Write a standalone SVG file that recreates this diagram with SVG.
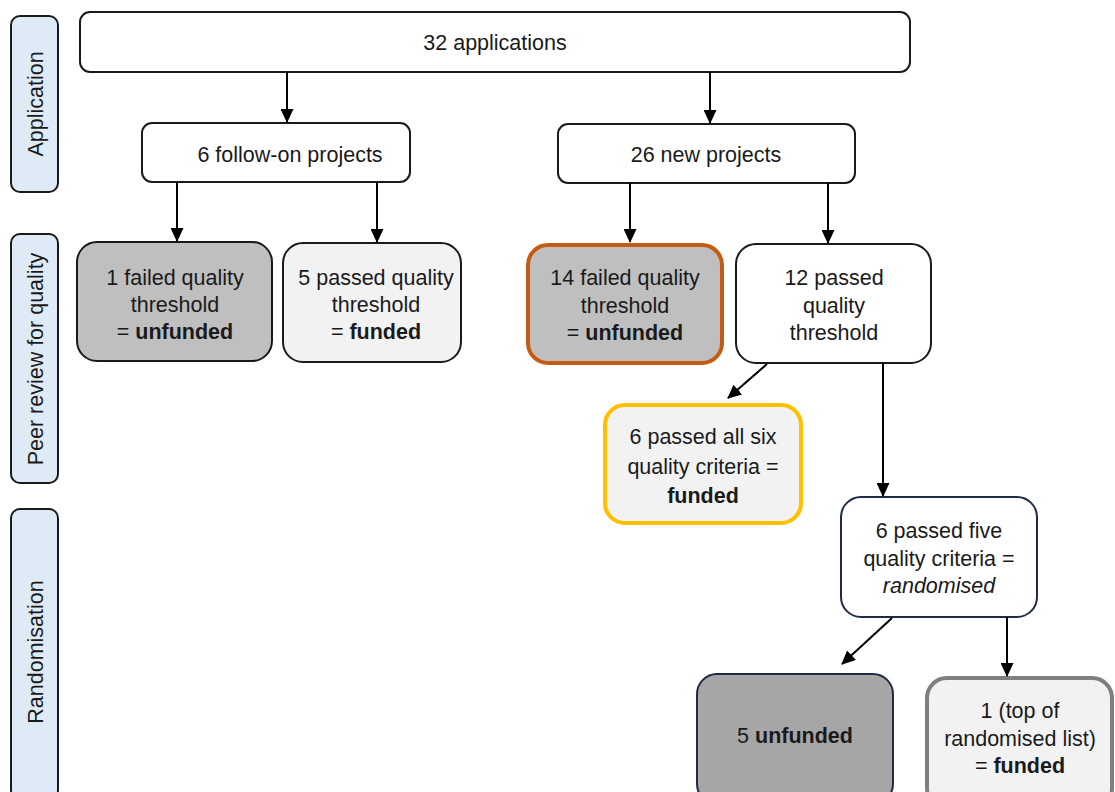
<svg xmlns="http://www.w3.org/2000/svg" width="1115" height="792" viewBox="0 0 1115 792">
<defs>
<marker id="arr" viewBox="0 0 14 13" refX="13" refY="6.5" markerWidth="14" markerHeight="13" markerUnits="userSpaceOnUse" orient="auto">
<path d="M0,0 L14,6.5 L0,13 Z" fill="#000"/>
</marker>
<style>
text{font-family:"Liberation Sans",Arial,sans-serif;font-size:21.5px;fill:#1a1a1a;text-anchor:middle}
.lane rect{fill:#DEEBF7;stroke:#1a1a1a;stroke-width:2}
.box{stroke:#1a1a1a;stroke-width:2}
.w{fill:#fff}
.lg{fill:#F2F2F2}
.g{fill:#BFBFBF}
.b{font-weight:bold}
.conn line{stroke:#000;stroke-width:2;marker-end:url(#arr)}
</style>
</defs>
<rect width="1115" height="792" fill="#fff"/>
<g id="lane-application" class="lane"><rect x="11" y="16" width="47" height="176" rx="9"/><text transform="translate(43,104) rotate(-90)">Application</text></g>
<g id="lane-peer" class="lane"><rect x="11" y="234" width="47" height="249" rx="9"/><text transform="translate(43,359) rotate(-90)">Peer review for quality</text></g>
<g id="lane-random" class="lane"><rect x="11" y="509" width="47" height="290" rx="9"/><text transform="translate(43,652) rotate(-90)">Randomisation</text></g>

<g id="n-apps"><rect class="box w" x="80" y="12" width="830" height="60" rx="10"/><text x="495" y="50">32 applications</text></g>
<g id="n-followon"><rect class="box w" x="142" y="123" width="268" height="59" rx="10"/><text x="290" y="162">6 follow-on projects</text></g>
<g id="n-new"><rect class="box w" x="558" y="124" width="297" height="59" rx="10"/><text x="706" y="162">26 new projects</text></g>

<g id="n-fail1"><rect class="box g" x="77" y="242" width="195" height="119" rx="20"/><text x="175" y="285">1 failed quality</text><text x="175" y="312">threshold</text><text x="175" y="339">= <tspan class="b">unfunded</tspan></text></g>
<g id="n-pass5"><rect class="box lg" x="283" y="243" width="178" height="119" rx="20"/><text x="376" y="285">5 passed quality</text><text x="376" y="312">threshold</text><text x="376" y="339">= <tspan class="b">funded</tspan></text></g>
<g id="n-fail14"><rect x="528" y="245" width="194" height="118" rx="20" fill="#BFBFBF" stroke="#C55A11" stroke-width="4"/><text x="625" y="285">14 failed quality</text><text x="625" y="313">threshold</text><text x="625" y="340">= <tspan class="b">unfunded</tspan></text></g>
<g id="n-pass12"><rect class="box w" x="736" y="244" width="195" height="119" rx="20"/><text x="834" y="285">12 passed</text><text x="834" y="313">quality</text><text x="834" y="340">threshold</text></g>

<g id="n-six"><rect x="605" y="405" width="196" height="118" rx="20" fill="#F2F2F2" stroke="#FFC000" stroke-width="4"/><text x="703" y="444">6 passed all six</text><text x="703" y="474">quality criteria =</text><text x="703" y="503" class="b">funded</text></g>
<g id="n-five"><rect x="841" y="497" width="196" height="120" rx="20" fill="#fff" stroke="#1F2A44" stroke-width="2"/><text x="939" y="538">6 passed five</text><text x="939" y="566">quality criteria =</text><text x="939" y="593" font-style="italic">randomised</text></g>

<g id="n-unf5"><rect x="697" y="674" width="196" height="130" rx="20" fill="#A6A6A6" stroke="#1F2A44" stroke-width="2"/><text x="795" y="743">5 <tspan class="b">unfunded</tspan></text></g>
<g id="n-top1"><rect x="927" y="678" width="185" height="130" rx="20" fill="#F2F2F2" stroke="#7F7F7F" stroke-width="4"/><text x="1020" y="718">1 (top of</text><text x="1020" y="746">randomised list)</text><text x="1020" y="773">= <tspan class="b">funded</tspan></text></g>

<g id="connectors" class="conn">
<line x1="287" y1="72" x2="287" y2="122"/>
<line x1="710" y1="72" x2="710" y2="123"/>
<line x1="177" y1="182" x2="177" y2="241"/>
<line x1="377" y1="182" x2="377" y2="242"/>
<line x1="630" y1="183" x2="630" y2="242"/>
<line x1="828" y1="183" x2="828" y2="243"/>
<line x1="767" y1="364" x2="728" y2="398"/>
<line x1="883" y1="363" x2="883" y2="496"/>
<line x1="892" y1="618" x2="842" y2="664"/>
<line x1="1007" y1="617" x2="1007" y2="676"/>
</g>
</svg>
